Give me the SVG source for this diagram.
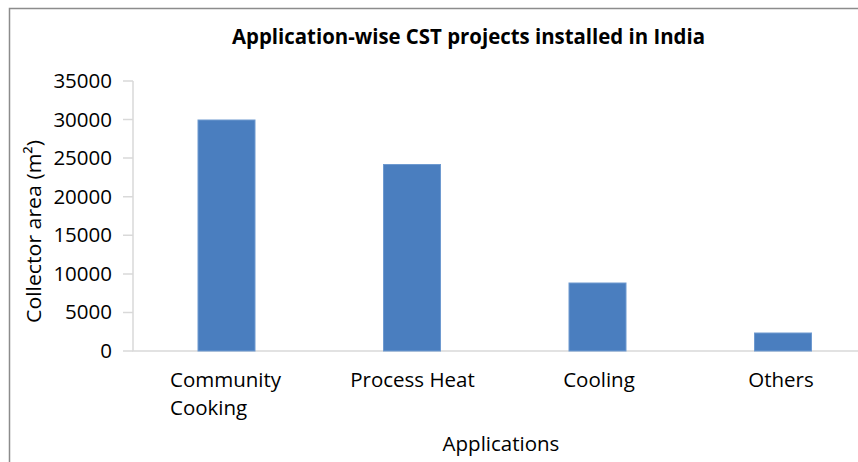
<svg xmlns="http://www.w3.org/2000/svg" width="858" height="462" viewBox="0 0 858 462">
<style>
text{font-family:"Open Sans","Liberation Sans",sans-serif;fill:#000;font-size:20.5px}
.tk{text-anchor:end}
.cat{text-anchor:middle}
.bar{fill:#4A7EBF;stroke:#6E9AD0;stroke-width:1}
.grid{stroke:#D9D9D9;stroke-width:1.5;fill:none}
</style>
<rect x="0" y="0" width="858" height="462" fill="#fff"/>
<path d="M9.5 462 V8.5 H858" fill="none" stroke="#8C8C8C" stroke-width="1.5"/>
<text x="468.5" y="44" textLength="473" lengthAdjust="spacingAndGlyphs" style="font-size:20.5px;font-weight:bold;text-anchor:middle">Application-wise CST projects installed in India</text>
<g id="axes">
<path class="grid" d="M133 81 V351 H858"/>
<path class="grid" d="M123 81H133M123 119.6H133M123 158.1H133M123 196.7H133M123 235.3H133M123 273.9H133M123 312.4H133M123 351H133"/>
<text class="tk" x="112" y="88">35000</text>
<text class="tk" x="112" y="126.6">30000</text>
<text class="tk" x="112" y="165.1">25000</text>
<text class="tk" x="112" y="203.7">20000</text>
<text class="tk" x="112" y="242.3">15000</text>
<text class="tk" x="112" y="280.9">10000</text>
<text class="tk" x="112" y="319.4">5000</text>
<text class="tk" x="112" y="358">0</text>
<text transform="translate(41 231.5) rotate(-90)" textLength="183" lengthAdjust="spacingAndGlyphs" style="text-anchor:middle">Collector area (m²)</text>
<text x="501" y="451" class="cat">Applications</text>
</g>
<g id="bar-community-cooking">
<rect class="bar" x="198" y="120" width="57" height="231"/>
<text x="170" y="387">Community</text>
<text x="170" y="415">Cooking</text>
</g>
<g id="bar-process-heat">
<rect class="bar" x="383.5" y="164.5" width="57" height="186.5"/>
<text class="cat" x="412.5" y="387">Process Heat</text>
</g>
<g id="bar-cooling">
<rect class="bar" x="569" y="283" width="57" height="68"/>
<text class="cat" x="599" y="387">Cooling</text>
</g>
<g id="bar-others">
<rect class="bar" x="754.5" y="333" width="57" height="18"/>
<text class="cat" x="781" y="387">Others</text>
</g>
</svg>
